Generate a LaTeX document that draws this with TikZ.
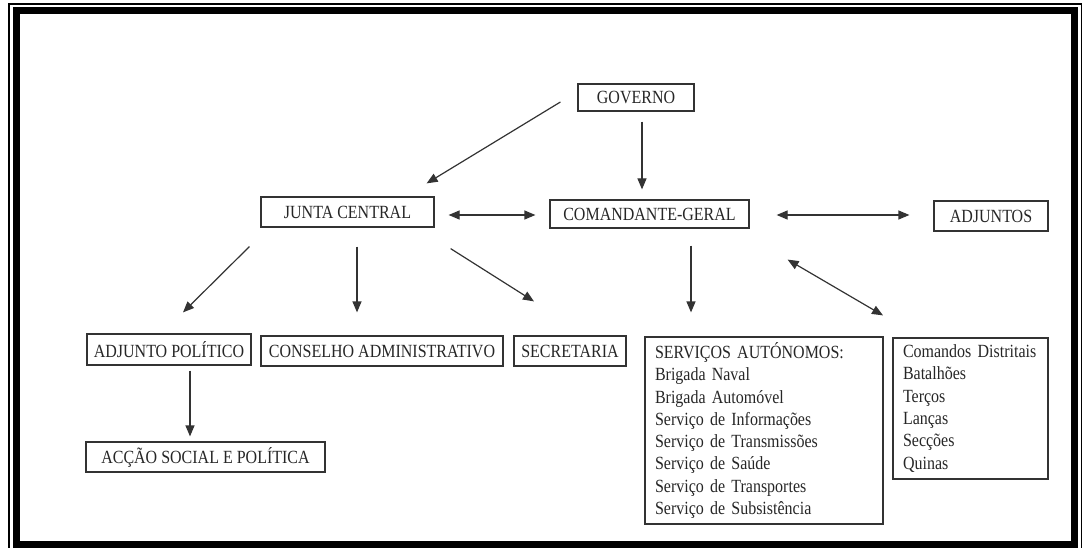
\documentclass[tikz,border=0pt]{standalone}
\usepackage{fontspec}
\setmainfont{Liberation Serif}[FakeStretch=0.86]
\usetikzlibrary{calc,arrows.meta}
\tikzset{
  box/.style={draw=black!80, line width=1.2pt, inner sep=0pt, text=black!85,
    font=\fontsize{18.6}{20}\selectfont},
  listbox/.style={box, align=left, inner xsep=10pt, inner ysep=0pt,
    font=\fontsize{18.6}{22.3}\selectfont},
  arr/.style={draw=black!80, line width=1.2pt, -{Triangle[length=11pt,width=9pt]}},
  darr/.style={draw=black!80, line width=1.2pt,
    {Triangle[length=11pt,width=9pt]}-{Triangle[length=11pt,width=9pt]}},
  frame/.style={draw=black, line width=7pt},
  thinframe/.style={draw=black, line width=1.5pt}
}
\begin{document}
\begin{tikzpicture}[x=1pt,y=-1pt]
\useasboundingbox (0,0) rectangle (1083,548);
% frame
\draw[frame] (16.5,10.5) rectangle (1074.5,544.5);
\draw[thinframe] (9,548) -- (9,4) -- (1081.5,4) -- (1081.5,548);

% nodes
\node[box, minimum width=116pt, minimum height=27pt] (gov) at (636,97.5) {GOVERNO};
\node[box, minimum width=173pt, minimum height=30pt] (junta) at (347.5,212) {JUNTA CENTRAL};
\node[box, minimum width=199pt, minimum height=28pt] (com) at (649.5,214) {COMANDANTE-GERAL};
\node[box, minimum width=114pt, minimum height=30pt] (adj) at (991,216) {ADJUNTOS};
\node[box, minimum width=164pt, minimum height=31pt] (adjpol) at (169,349.5) {ADJUNTO POLÍTICO};
\node[box, minimum width=242pt, minimum height=30pt] (cons) at (382,351) {CONSELHO ADMINISTRATIVO};
\node[box, minimum width=112pt, minimum height=30pt] (sec) at (570,351) {SECRETARIA};
\node[box, minimum width=239pt, minimum height=30pt] (acc) at (205.5,457) {ACÇÃO SOCIAL E POLÍTICA};
\node[listbox, text width=218pt, minimum height=187pt] (serv) at (764,430.5) {SERVIÇOS AUTÓNOMOS:\\
Brigada Naval\\
Brigada Automóvel\\
Serviço de Informações\\
Serviço de Transmissões\\
Serviço de Saúde\\
Serviço de Transportes\\
Serviço de Subsistência};
\node[listbox, text width=135pt, minimum height=141pt] (unid) at (970.5,408.5) {Comandos Distritais\\
Batalhões\\
Terços\\
Lanças\\
Secções\\
Quinas};

% connectors
\draw[arr] ($(gov.west)+(-17,4.5)$) -- ($(junta.north east)+(-8,-13)$);
\draw[arr] ($(gov.south)+(6,10)$) -- ($(com.north)+(-7.5,-10)$);
\draw[darr] ($(junta.east)+(14,3)$) -- ($(com.west)+(-14,1)$);
\draw[darr] ($(com.east)+(27,1)$) -- ($(adj.west)+(-24,-1)$);
\draw[arr] ($(junta.south west)+(-11,19)$) -- ($(adjpol.north)+(14,-21)$);
\draw[arr] ($(junta.south)+(9.5,19)$) -- ($(cons.north)+(-25,-23)$);
\draw[arr] ($(junta.south east)+(16,21)$) -- ($(sec.north)+(-36,-34)$);
\draw[arr] ($(com.south)+(41.5,17)$) -- ($(serv.north)+(-73,-24)$);
\draw[darr] ($(com.south east)+(38,31)$) -- ($(unid.north)+(-87.5,-22)$);
\draw[arr] ($(adjpol.south)+(21,5)$) -- ($(acc.north)+(-15.5,-5)$);
\end{tikzpicture}
\end{document}
